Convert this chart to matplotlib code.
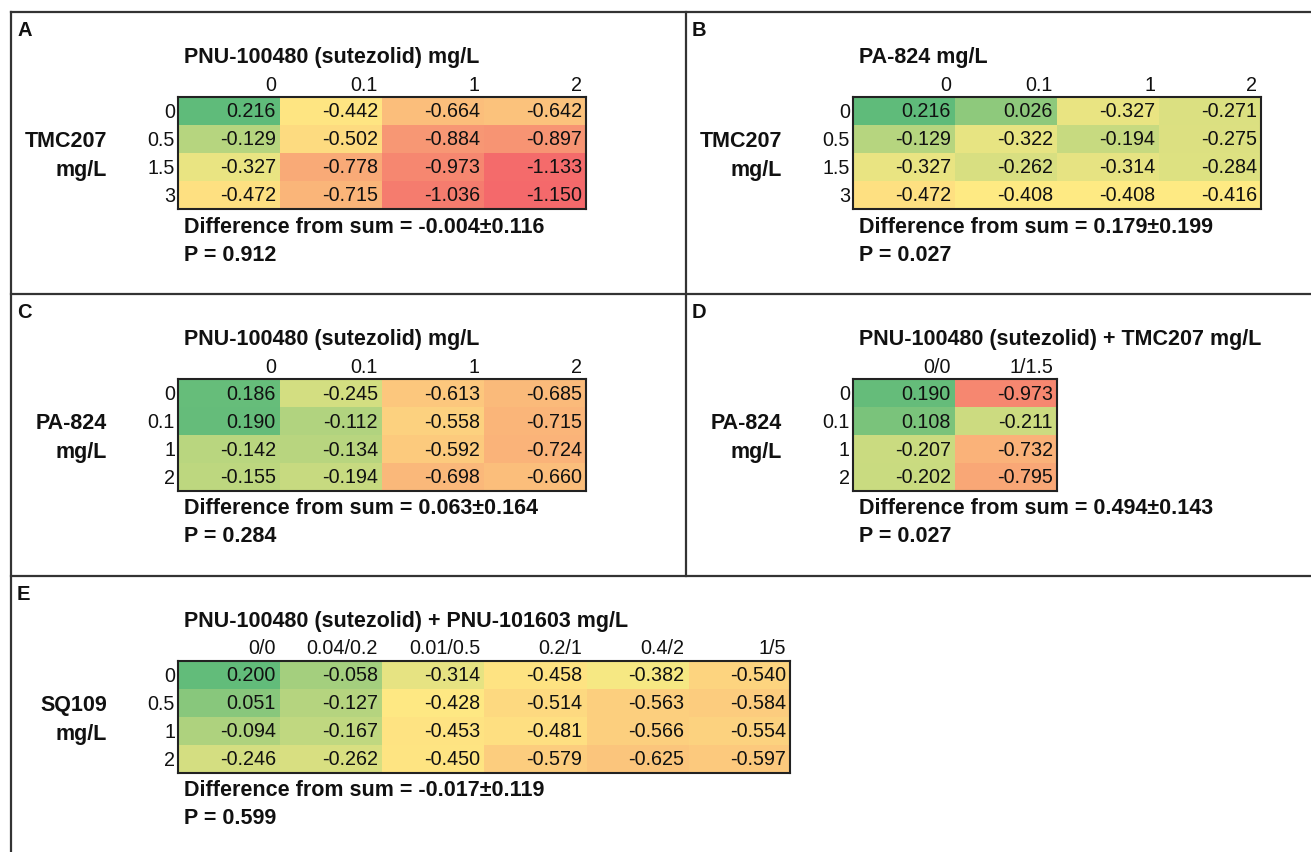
import numpy as np
import matplotlib
matplotlib.use("Agg")
import matplotlib.pyplot as plt
from matplotlib.colors import LinearSegmentedColormap, TwoSlopeNorm

plt.rcParams['font.family'] = ['Liberation Sans', 'DejaVu Sans']

# ---------------- data ----------------
letters = ["A", "B", "C", "D", "E"]
titles = ["PNU-100480 (sutezolid) mg/L",
          "PA-824 mg/L",
          "PNU-100480 (sutezolid) mg/L",
          "PNU-100480 (sutezolid) + TMC207 mg/L",
          "PNU-100480 (sutezolid) + PNU-101603 mg/L"]
col_labels = [["0", "0.1", "1", "2"],
              ["0", "0.1", "1", "2"],
              ["0", "0.1", "1", "2"],
              ["0/0", "1/1.5"],
              ["0/0", "0.04/0.2", "0.01/0.5", "0.2/1", "0.4/2", "1/5"]]
row_labels = [["0", "0.5", "1.5", "3"],
              ["0", "0.5", "1.5", "3"],
              ["0", "0.1", "1", "2"],
              ["0", "0.1", "1", "2"],
              ["0", "0.5", "1", "2"]]
row_drugs = ["TMC207", "TMC207", "PA-824", "PA-824", "SQ109"]

values_A = [[0.216, -0.442, -0.664, -0.642],
            [-0.129, -0.502, -0.884, -0.897],
            [-0.327, -0.778, -0.973, -1.133],
            [-0.472, -0.715, -1.036, -1.150]]
values_B = [[0.216, 0.026, -0.327, -0.271],
            [-0.129, -0.322, -0.194, -0.275],
            [-0.327, -0.262, -0.314, -0.284],
            [-0.472, -0.408, -0.408, -0.416]]
values_C = [[0.186, -0.245, -0.613, -0.685],
            [0.190, -0.112, -0.558, -0.715],
            [-0.142, -0.134, -0.592, -0.724],
            [-0.155, -0.194, -0.698, -0.660]]
values_D = [[0.190, -0.973],
            [0.108, -0.211],
            [-0.207, -0.732],
            [-0.202, -0.795]]
values_E = [[0.200, -0.058, -0.314, -0.458, -0.382, -0.540],
            [0.051, -0.127, -0.428, -0.514, -0.563, -0.584],
            [-0.094, -0.167, -0.453, -0.481, -0.566, -0.554],
            [-0.246, -0.262, -0.450, -0.579, -0.625, -0.597]]
all_values = [values_A, values_B, values_C, values_D, values_E]

diff_texts = ["-0.004\u00b10.116", "0.179\u00b10.199", "0.063\u00b10.164",
              "0.494\u00b10.143", "-0.017\u00b10.119"]
p_texts = ["0.912", "0.027", "0.284", "0.027", "0.599"]

# ---------------- layout ----------------
W, H = 1311, 853
fig = plt.figure(figsize=(W / 100, H / 100), dpi=100)
ax0 = fig.add_axes([0, 0, 1, 1])
ax0.set_xlim(0, W)
ax0.set_ylim(H, 0)
ax0.axis("off")

offsets = [(0, 0), (675, 0), (0, 282), (675, 282), (0, 564)]

# colour scale (Excel style red - yellow - green)
flat = np.concatenate([np.ravel(v) for v in all_values])
cmap = LinearSegmentedColormap.from_list("ryg", ["#F4696B", "#FFEB84", "#5FBB7A"])
norm = TwoSlopeNorm(vmin=flat.min(), vcenter=np.median(flat), vmax=flat.max())

line_c = "#333333"
lw = 1.6
ax0.plot([11, W], [13, 13], color=line_c, lw=lw)
ax0.plot([11, 11], [13, H], color=line_c, lw=lw)
ax0.plot([686, 686], [13, 577], color=line_c, lw=lw)
ax0.plot([11, W], [295, 295], color=line_c, lw=lw)
ax0.plot([11, W], [577, 577], color=line_c, lw=lw)

fs_num = 14.2
fs_bold = 15.5
CW, RH = 102, 28

for k in range(5):
    ox, oy = offsets[k]
    vals = np.array(all_values[k])
    nr, nc = vals.shape
    L = 178 + ox
    T = 98 + oy
    w = CW * nc
    h = RH * nr
    ax = fig.add_axes([L / W, 1 - (T + h) / H, w / W, h / H])
    ax.imshow(vals, cmap=cmap, norm=norm, aspect="auto", interpolation="nearest")
    for i in range(nr):
        for j in range(nc):
            ax.text(j + 0.46, i, f"{vals[i, j]:.3f}", ha="right", va="center",
                    fontsize=fs_num, color="#111111")
    ax.set_xticks([])
    ax.set_yticks([])
    for s in ax.spines.values():
        s.set_linewidth(1.5)
        s.set_color("#222222")

    # panel letter
    ax0.text(17 + ox, 30 + oy, letters[k], ha="left", va="center",
             fontsize=14.5, fontweight="bold", color="#111111")
    # title
    ax0.text(184 + ox, 57 + oy, titles[k], ha="left", va="center",
             fontsize=fs_bold, fontweight="bold", color="#111111")
    # column labels
    for j, lab in enumerate(col_labels[k]):
        ax0.text(L + CW * (j + 1) - 4, 85 + oy, lab, ha="right", va="center",
                 fontsize=fs_num, color="#111111")
    # row labels
    for i, lab in enumerate(row_labels[k]):
        ax0.text(L - 3, T + RH * (i + 0.5), lab, ha="right", va="center",
                 fontsize=fs_num, color="#111111")
    # drug name
    ax0.text(107 + ox, T + RH * 1.55, row_drugs[k], ha="right", va="center",
             fontsize=fs_bold, fontweight="bold", color="#111111")
    ax0.text(107 + ox, T + RH * 2.6, "mg/L", ha="right", va="center",
             fontsize=fs_bold, fontweight="bold", color="#111111")
    # statistics
    ax0.text(184 + ox, 227 + oy, "Difference from sum = " + diff_texts[k],
             ha="left", va="center", fontsize=fs_bold, fontweight="bold", color="#111111")
    ax0.text(184 + ox, 255 + oy, "P = " + p_texts[k],
             ha="left", va="center", fontsize=fs_bold, fontweight="bold", color="#111111")

fig.savefig("out.png", dpi=100)
